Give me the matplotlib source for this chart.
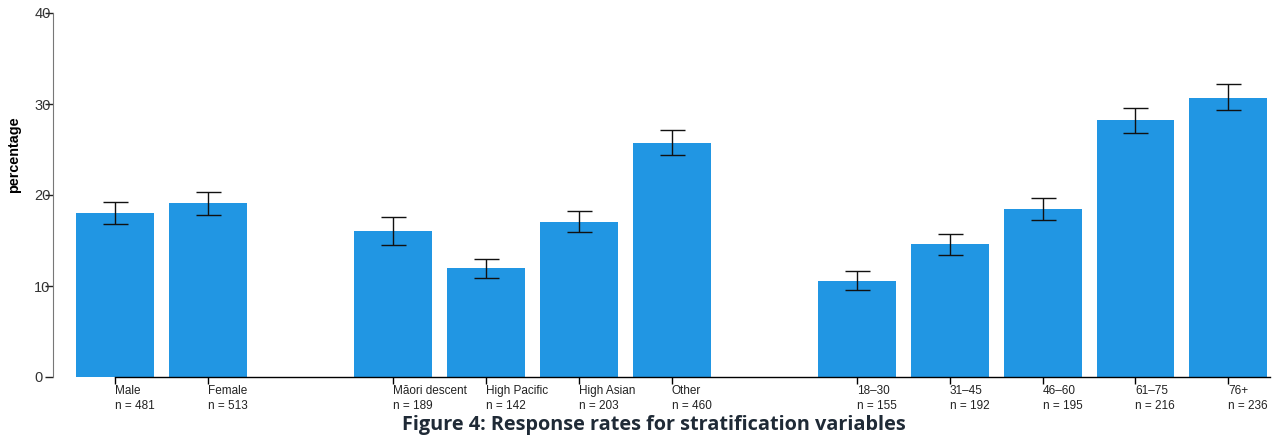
import numpy as np
import matplotlib.pyplot as plt

groups = ["Male", "Female", "Māori descent", "High Pacific", "High Asian", "Other",
          "18–30", "31–45", "46–60", "61–75", "76+"]
sizes = [481, 513, 189, 142, 203, 460, 155, 192, 195, 216, 236]
slots = [0, 1, 3, 4, 5, 6, 8, 9, 10, 11, 12]
rates = [18.0, 19.1, 16.0, 12.0, 17.0, 25.7, 10.6, 14.6, 18.5, 28.2, 30.7]
ci_low = [16.8, 17.8, 14.5, 10.9, 15.9, 24.4, 9.6, 13.4, 17.3, 26.8, 29.3]
ci_high = [19.2, 20.3, 17.6, 13.0, 18.2, 27.1, 11.6, 15.7, 19.7, 29.6, 32.2]

plt.rcParams['font.family'] = ['Liberation Sans', 'DejaVu Sans']

rates = np.array(rates)
err = [rates - np.array(ci_low), np.array(ci_high) - rates]

fig = plt.figure(figsize=(12.76, 4.37), dpi=100)
ax = fig.add_axes([53 / 1276, 60 / 437, 1217 / 1276, 364 / 437])

ax.bar(slots, rates, width=0.84, color='#2196e3')
ax.errorbar(slots, rates, yerr=err, fmt='none', ecolor='#111111',
            elinewidth=1, capsize=9, capthick=1)

ax.set_xlim(-0.668, 12.45)
ax.set_ylim(0, 40)

for s in ['top', 'right']:
    ax.spines[s].set_visible(False)
ax.spines['left'].set_color('#777777')
ax.spines['left'].set_bounds(0, 40)
ax.spines['bottom'].set_bounds(slots[0], 12.45)
ax.spines['bottom'].set_linewidth(1)

# y labels sit left-aligned over the outward ticks
ax.set_yticks([0, 10, 20, 30, 40])
ax.tick_params(axis='y', length=6, width=1, color='#222222', pad=7.5,
               labelsize=10.5, labelcolor='#333333')
for lbl in ax.get_yticklabels():
    lbl.set_horizontalalignment('left')

ax.set_xticks(slots)
ax.set_xticklabels([f"{g}\nn = {n}" for g, n in zip(groups, sizes)],
                   ha='left', fontsize=8.5, color='#222222', linespacing=1.3)
ax.tick_params(axis='x', length=5, width=1, pad=1)

fig.text(14 / 1276, 1 - 155 / 437, "percentage", rotation=90, fontsize=10.4,
         fontweight='bold', ha='center', va='center')
fig.text(654 / 1276, 1 - 425 / 437,
         "Figure 4: Response rates for stratification variables",
         fontsize=14.3, fontweight='bold', family='Open Sans', color='#1f2a36',
         ha='center', va='center')

fig.savefig('out.png', dpi=100)
